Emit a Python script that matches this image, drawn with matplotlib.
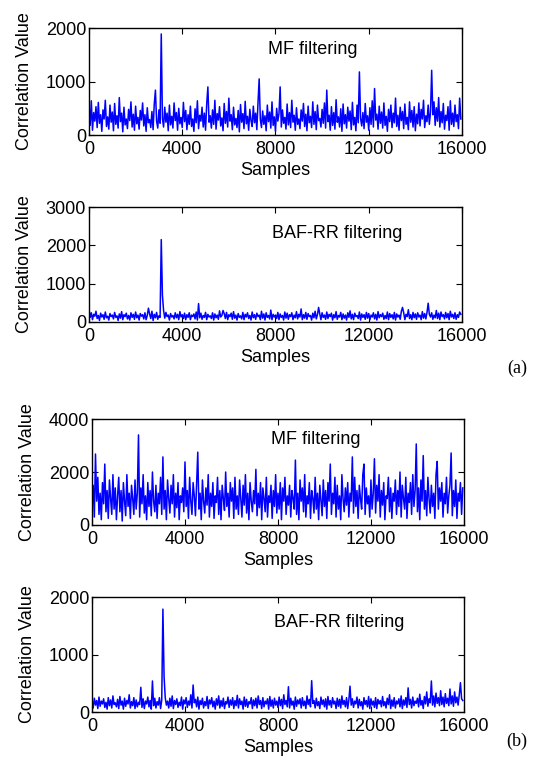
import numpy as np
import matplotlib
matplotlib.use("Agg")
import matplotlib.pyplot as plt

plt.rcParams["font.family"] = ["Liberation Sans", "DejaVu Sans"]

STEP = 50  # samples between stored points

mf_a = [
    560, 180, 640, 90, 420, 260, 530, 140, 610, 220, 380, 70, 470, 300, 650, 160, 340, 110, 560, 240,
    430, 80, 590, 200, 360, 130, 700, 250, 410, 60, 520, 190, 300, 120, 480, 270, 620, 150, 390, 90,
    540, 210, 330, 110, 460, 280, 600, 170, 380, 70, 510, 230, 290, 140, 440, 100, 580, 840, 260, 130,
    470, 220, 1890, 310, 150, 520, 240, 410, 80, 560, 190, 350, 130, 600, 270, 420, 90, 500, 210, 330,
    140, 610, 250, 460, 100, 380, 200, 540, 160, 300, 70, 490, 230, 640, 120, 370, 260, 520, 150, 410,
    90, 580, 900, 240, 360, 130, 470, 200, 650, 110, 400, 280, 530, 170, 320, 80, 590, 220, 440, 150,
    690, 260, 380, 100, 520, 190, 310, 140, 460, 60, 570, 240, 400, 120, 630, 210, 350, 90, 480, 270,
    160, 540, 230, 410, 100, 600, 1050, 290, 140, 450, 200, 360, 80, 560, 250, 430, 130, 620, 180, 340,
    70, 500, 260, 400, 900, 150, 470, 220, 330, 110, 580, 190, 420, 140, 650, 240, 370, 90, 510, 200,
    300, 120, 470, 260, 590, 160, 390, 80, 540, 230, 350, 140, 620, 200, 440, 100, 560, 270, 310, 150,
    480, 220, 600, 130, 840, 250, 370, 90, 530, 180, 420, 110, 660, 240, 340, 150, 490, 70, 580, 210,
    380, 130, 520, 260, 450, 100, 610, 190, 330, 80, 560, 230, 1180, 310, 170, 420, 120, 590, 240, 360,
    90, 510, 200, 640, 150, 870, 280, 390, 110, 540, 220, 430, 130, 600, 180, 350, 70, 480, 250, 560,
    140, 410, 230, 690, 160, 370, 90, 520, 270, 440, 120, 580, 200, 330, 100, 620, 240, 460, 150, 530,
    80, 390, 210, 600, 170, 480, 300, 650, 140, 360, 250, 560, 200, 430, 1210, 380, 620, 180, 510, 260,
    700, 150, 440, 230, 590, 110, 370, 270, 530, 90, 640, 200, 410, 160, 560, 250, 380, 120, 690, 300,
]

baf_a = [
    330, 120, 240, 60, 200, 150, 280, 90, 170, 40, 230, 130, 190, 70, 260, 110, 150, 50, 220, 140,
    180, 80, 250, 120, 160, 40, 210, 100, 270, 60, 190, 140, 230, 80, 170, 50, 240, 120, 200, 70,
    260, 110, 180, 50, 220, 150, 190, 80, 240, 60, 170, 360, 210, 90, 280, 40, 200, 110, 250, 70,
    160, 120, 2150, 700, 300, 100, 250, 140, 180, 50, 220, 130, 170, 80, 240, 110, 200, 60, 270, 130,
    190, 90, 230, 60, 190, 120, 240, 60, 180, 140, 210, 80, 260, 50, 480, 110, 230, 70, 170, 120,
    250, 60, 200, 130, 160, 90, 240, 50, 210, 110, 180, 70, 290, 130, 170, 300, 220, 90, 250, 60,
    190, 140, 230, 70, 270, 100, 180, 50, 220, 120, 160, 80, 250, 60, 200, 130, 240, 90, 170, 50,
    260, 110, 190, 70, 230, 140, 180, 60, 280, 100, 210, 50, 240, 120, 170, 80, 310, 60, 200, 130,
    180, 90, 250, 60, 210, 120, 170, 50, 260, 100, 230, 70, 190, 140, 240, 60, 180, 110, 270, 80,
    200, 130, 340, 60, 190, 100, 250, 70, 220, 140, 170, 50, 230, 110, 280, 80, 190, 380, 210, 60,
    240, 120, 180, 70, 260, 90, 200, 140, 230, 50, 190, 110, 270, 70, 170, 130, 250, 60, 210, 100,
    180, 50, 240, 120, 290, 80, 200, 60, 230, 140, 170, 90, 260, 50, 210, 120, 190, 70, 250, 100,
    220, 60, 180, 130, 240, 80, 200, 50, 270, 110, 190, 140, 230, 70, 170, 90, 260, 60, 220, 120,
    190, 80, 250, 50, 210, 130, 180, 70, 280, 380, 240, 60, 200, 140, 320, 90, 190, 60, 250, 110,
    210, 70, 240, 130, 180, 60, 270, 100, 220, 80, 250, 490, 200, 130, 240, 70, 180, 110, 300, 90,
    230, 60, 260, 140, 190, 80, 250, 110, 220, 60, 280, 130, 200, 90, 240, 70, 190, 120, 260, 200,
]

mf_b = [
    700, 1500, 300, 2680, 900, 1800, 400, 1200, 200, 1600, 800, 2300, 500, 1300, 250, 1700, 1000, 400, 1900, 600,
    1400, 200, 1100, 1800, 500, 1300, 150, 1600, 900, 350, 1900, 700, 1200, 250, 1500, 1000, 400, 1700, 600, 1200,
    3400, 300, 1400, 800, 1900, 450, 1100, 200, 1600, 700, 1300, 350, 2000, 900, 500, 1500, 250, 1200, 800, 1800,
    400, 2570, 600, 1300, 200, 1700, 1000, 450, 1500, 800, 1900, 300, 1200, 650, 1600, 200, 1100, 850, 1400, 500,
    2380, 700, 1300, 250, 1800, 900, 400, 1600, 1100, 350, 1500, 2750, 600, 1200, 200, 1700, 900, 450, 1400, 750,
    1900, 300, 1200, 700, 1600, 250, 1100, 850, 1800, 400, 1300, 200, 1500, 1000, 550, 2000, 700, 1200, 300, 1600,
    900, 1400, 250, 1800, 600, 1100, 400, 1700, 1000, 300, 1500, 750, 1900, 450, 1200, 200, 1600, 900, 500, 1300,
    800, 2100, 350, 1200, 650, 1600, 200, 1400, 1000, 500, 1800, 300, 1100, 850, 1500, 250, 1300, 700, 1900, 450,
    1200, 600, 1600, 200, 1400, 900, 1800, 400, 1100, 750, 1500, 300, 1300, 1000, 600, 2450, 400, 1200, 200, 1700,
    900, 1400, 500, 1900, 300, 1100, 800, 1600, 250, 1300, 1000, 450, 1800, 600, 1200, 200, 1500, 900, 350, 1700,
    700, 1300, 250, 1600, 900, 2300, 400, 1200, 800, 1800, 300, 1500, 600, 1100, 200, 1900, 1000, 500, 1400, 750,
    1600, 300, 1200, 900, 2570, 450, 1800, 700, 1300, 250, 1500, 1000, 600, 1900, 2300, 400, 1400, 800, 1100, 300,
    1700, 600, 1200, 2500, 450, 1500, 900, 1900, 300, 1300, 750, 1600, 200, 1100, 1000, 1800, 500, 1400, 250, 1200,
    900, 1700, 400, 1300, 700, 2000, 300, 1500, 1000, 600, 1800, 250, 1200, 850, 1600, 400, 1900, 700, 1300, 3060,
    500, 1400, 200, 1700, 900, 2620, 600, 1300, 350, 1800, 1000, 450, 1500, 700, 1200, 250, 1900, 2400, 600, 1400,
    900, 1600, 300, 1200, 800, 1800, 450, 1100, 1500, 2720, 350, 1300, 700, 1700, 250, 1200, 900, 1600, 400, 1400,
]

baf_b = [
    180, 70, 240, 120, 200, 60, 260, 100, 190, 140, 230, 80, 170, 50, 250, 110, 210, 70, 280, 130,
    160, 90, 220, 60, 270, 120, 190, 50, 240, 100, 200, 140, 300, 70, 180, 110, 250, 60, 210, 90,
    170, 130, 430, 80, 230, 60, 190, 140, 260, 90, 200, 50, 540, 110, 240, 70, 180, 120, 250, 60,
    210, 1790, 620, 250, 120, 190, 70, 240, 100, 280, 60, 200, 130, 230, 80, 170, 110, 260, 50, 210,
    140, 250, 80, 190, 120, 300, 70, 470, 160, 220, 90, 260, 50, 200, 130, 240, 70, 180, 110, 270,
    60, 210, 140, 250, 90, 190, 50, 230, 120, 280, 70, 200, 100, 240, 60, 180, 140, 260, 80, 210,
    120, 250, 60, 200, 110, 290, 70, 230, 130, 190, 50, 260, 100, 220, 80, 180, 140, 250, 60, 210,
    110, 240, 70, 280, 130, 200, 60, 250, 90, 190, 140, 230, 50, 270, 100, 210, 70, 240, 120, 190,
    80, 260, 110, 220, 60, 300, 130, 200, 90, 440, 70, 240, 120, 190, 50, 260, 100, 210, 140, 230,
    70, 250, 110, 190, 60, 280, 130, 220, 90, 545, 150, 200, 70, 240, 110, 180, 60, 260, 130, 210,
    90, 230, 50, 270, 120, 200, 80, 250, 140, 190, 60, 240, 100, 220, 70, 280, 130, 200, 90, 250,
    60, 210, 450, 120, 230, 80, 190, 140, 260, 70, 220, 110, 180, 50, 250, 130, 200, 90, 270, 60,
    230, 120, 190, 80, 250, 60, 220, 140, 200, 90, 270, 110, 180, 70, 240, 130, 300, 60, 210, 100,
    250, 70, 190, 140, 230, 90, 280, 60, 210, 120, 250, 80, 420, 130, 220, 70, 260, 110, 190, 150,
    240, 90, 310, 120, 200, 60, 270, 140, 350, 100, 230, 160, 540, 120, 280, 90, 330, 150, 250, 110,
    370, 130, 260, 90, 320, 150, 240, 110, 400, 140, 280, 100, 350, 160, 260, 120, 300, 510, 230, 200,
]

x_ticks = [0, 4000, 8000, 12000, 16000]
FS = 13

# (series, label, ylim, yticks, label xy in data coords, axes rect in figure fraction)
panels = [
    (mf_a, "MF filtering", 2000, [0, 1000, 2000], (9610, 1590), [0.1651, 0.8244, 0.692, 0.1391]),
    (baf_a, "BAF-RR filtering", 3000, [0, 1000, 2000, 3000], (10640, 2300), [0.1651, 0.5813, 0.692, 0.1495]),
    (mf_b, "MF filtering", 4000, [0, 2000, 4000], (9630, 3245), [0.1707, 0.3173, 0.690, 0.1378]),
    (baf_b, "BAF-RR filtering", 2000, [0, 1000, 2000], (10620, 1550), [0.1707, 0.0741, 0.690, 0.1495]),
]

fig = plt.figure(figsize=(5.39, 7.69), dpi=100)
for vals, name, ymax, yticks, (tx, ty), rect in panels:
    ax = fig.add_axes(rect)
    xs = np.arange(len(vals)) * STEP
    ax.plot(xs, vals, color="#0000ff", lw=1.1)
    ax.set_xlim(0, 16000)
    ax.set_ylim(0, ymax)
    ax.set_xticks(x_ticks)
    ax.set_yticks(yticks)
    ax.tick_params(direction="in", top=True, right=True, length=4, labelsize=FS)
    ax.tick_params(axis="x", pad=4)
    ax.tick_params(axis="y", pad=2)
    ax.set_xlabel("Samples", fontsize=FS, labelpad=3)
    ax.set_ylabel("Correlation Value", fontsize=FS, labelpad=9)
    ax.text(tx, ty, name, ha="center", va="center", fontsize=FS)
    for s in ax.spines.values():
        s.set_linewidth(1.0)

fig.text(517 / 539, 1 - 368 / 769, "(a)", ha="center", va="center",
         family=["Liberation Serif", "DejaVu Serif"], fontsize=13)
fig.text(517 / 539, 1 - 741 / 769, "(b)", ha="center", va="center",
         family=["Liberation Serif", "DejaVu Serif"], fontsize=13)

fig.savefig("out.png", dpi=100)
